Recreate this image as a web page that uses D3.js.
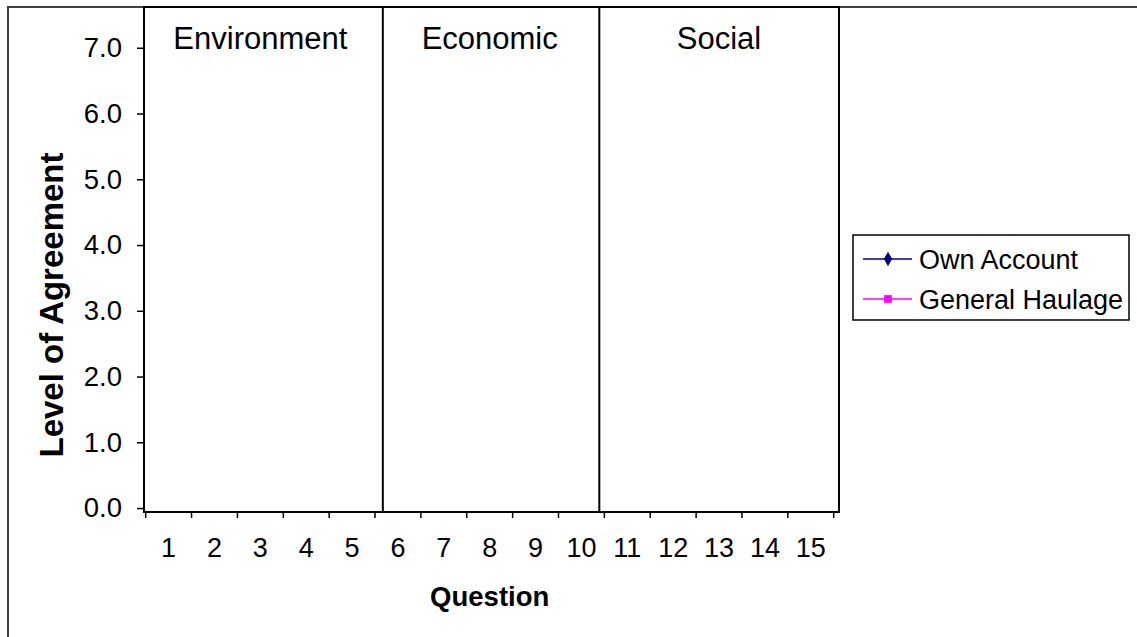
<!DOCTYPE html>
<html>
<head>
<meta charset="utf-8">
<script src="https://cdn.jsdelivr.net/npm/d3@7"></script>
<style>
  html, body { margin: 0; padding: 0; background: #fff; }
  svg { display: block; font-family: "Liberation Sans", Arial, sans-serif; }
</style>
</head>
<body>
<svg id="chart" width="1137" height="637"></svg>
<script>
// Questions on the category axis
const questions = [1, 2, 3, 4, 5, 6, 7, 8, 9, 10, 11, 12, 13, 14, 15];

// Mean level of agreement per question (no responses recorded yet)
const ownAccount     = [null, null, null, null, null, null, null, null, null, null, null, null, null, null, null];
const generalHaulage = [null, null, null, null, null, null, null, null, null, null, null, null, null, null, null];

// Question groups: label position and the divider after each group
const sectionNames   = ["Environment", "Economic", "Social"];
const sectionCenters = [3, 8, 13];
const sectionDividers = [5.67, 10.39];

const yTicks = [0, 1, 2, 3, 4, 5, 6, 7];

const seriesNames  = ["Own Account", "General Haulage"];
const seriesColors = ["#000080", "#FF00FF"];
const seriesShapes = [d3.symbolDiamond, d3.symbolSquare];

const svg = d3.select("#chart");

const plot = { left: 144, right: 839, top: 7, bottom: 512 };

const x = d3.scaleLinear().domain([0.5, 15.5]).range([145.7, 833.7]);
const y = d3.scaleLinear().domain([-0.06, 7.62]).range([plot.bottom, plot.top]);

// Chart area border
svg.append("rect")
  .attr("x", 8).attr("y", 7)
  .attr("width", 1137).attr("height", 640)
  .attr("fill", "#fff").attr("stroke", "#404040").attr("stroke-width", 2);

// Plot area frame
svg.append("rect")
  .attr("x", plot.left).attr("y", plot.top)
  .attr("width", plot.right - plot.left).attr("height", plot.bottom - plot.top)
  .attr("fill", "#fff").attr("stroke", "#000").attr("stroke-width", 2);

// Y axis
const yAxis = d3.axisLeft(y)
  .tickValues(yTicks)
  .tickFormat(d3.format(".1f"))
  .tickSize(7).tickPadding(15);
const gy = svg.append("g").attr("transform", `translate(${plot.left},0)`).call(yAxis);
gy.select(".domain").remove();
gy.selectAll("line").attr("stroke", "#000").attr("stroke-width", 1.5);
gy.selectAll("text").attr("font-size", 27.5).attr("fill", "#000");

// X axis: tick marks between categories, labels at category centres
const boundaries = d3.range(0.5, 15.6, 1);
const gx = svg.append("g").attr("transform", `translate(0,${plot.bottom})`);
gx.selectAll("line.tick")
  .data(boundaries)
  .join("line")
  .attr("class", "tick")
  .attr("x1", d => x(d)).attr("x2", d => x(d))
  .attr("y1", 0).attr("y2", 6)
  .attr("stroke", "#000").attr("stroke-width", 1.5);
gx.selectAll("text")
  .data(questions)
  .join("text")
  .attr("x", d => x(d))
  .attr("y", 45)
  .attr("text-anchor", "middle")
  .attr("font-size", 27)
  .attr("fill", "#000")
  .text(d => d);

// Section dividers
svg.append("g").selectAll("line")
  .data(sectionDividers)
  .join("line")
  .attr("x1", d => x(d)).attr("x2", d => x(d))
  .attr("y1", plot.top).attr("y2", plot.bottom)
  .attr("stroke", "#000").attr("stroke-width", 2);

// Section labels
svg.append("g").selectAll("text")
  .data(sectionNames)
  .join("text")
  .attr("x", (d, i) => x(sectionCenters[i]))
  .attr("y", y(7) + 1)
  .attr("text-anchor", "middle")
  .attr("font-size", 31)
  .attr("fill", "#000")
  .text(d => d);

// Series lines and markers
const series = [ownAccount, generalHaulage];
const line = d3.line()
  .defined(d => d != null)
  .x((d, i) => x(questions[i]))
  .y(d => y(d));
series.forEach((vals, s) => {
  svg.append("path")
    .datum(vals)
    .attr("fill", "none")
    .attr("stroke", seriesColors[s])
    .attr("stroke-width", 1.5)
    .attr("d", line);
  svg.append("g").selectAll("path")
    .data(vals.map((v, i) => ({ v, i })).filter(p => p.v != null))
    .join("path")
    .attr("transform", p => `translate(${x(questions[p.i])},${y(p.v)})`)
    .attr("d", d3.symbol().type(seriesShapes[s]).size(60))
    .attr("fill", seriesColors[s]);
});

// Axis titles
svg.append("text")
  .attr("x", x(8)).attr("y", 606)
  .attr("text-anchor", "middle")
  .attr("font-size", 27.5).attr("font-weight", "bold")
  .text("Question");

svg.append("text")
  .attr("transform", "translate(63,305) rotate(-90)")
  .attr("text-anchor", "middle")
  .attr("font-size", 33).attr("font-weight", "bold")
  .text("Level of Agreement");

// Legend
const legend = svg.append("g").attr("transform", "translate(853,235)");
legend.append("rect")
  .attr("width", 276).attr("height", 85)
  .attr("fill", "#fff").attr("stroke", "#000").attr("stroke-width", 1.5);
seriesNames.forEach((name, i) => {
  const cy = 24 + i * 40;
  legend.append("line")
    .attr("x1", 10).attr("x2", 59).attr("y1", cy).attr("y2", cy)
    .attr("stroke", seriesColors[i]).attr("stroke-width", 1.5);
  legend.append("path")
    .attr("transform", `translate(35,${cy})`)
    .attr("d", d3.symbol().type(seriesShapes[i]).size(60))
    .attr("fill", seriesColors[i]);
  legend.append("text")
    .attr("x", 66).attr("y", cy + 10)
    .attr("font-size", 27).attr("fill", "#000")
    .text(name);
});
</script>
</body>
</html>
